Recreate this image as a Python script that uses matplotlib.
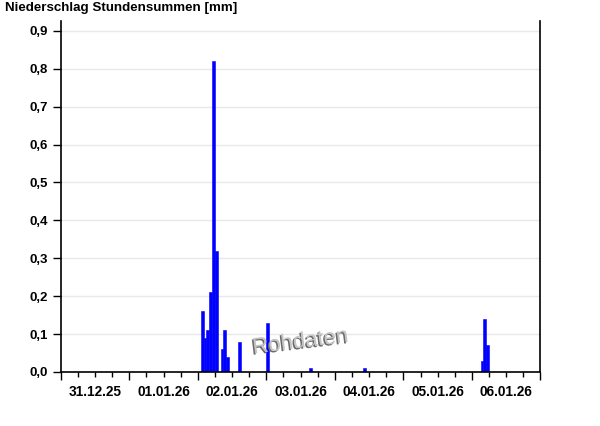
import numpy as np
import pandas as pd
import matplotlib
matplotlib.use("Agg")
import matplotlib.pyplot as plt
import matplotlib.dates as mdates
import matplotlib.patheffects as pe
from matplotlib.ticker import FuncFormatter, MultipleLocator

plt.rcParams['font.family'] = ['Liberation Sans', 'DejaVu Sans']

# hourly precipitation sums (start of hour), zero hours left out
times = ["2026-01-02 01:00", "2026-01-02 02:00", "2026-01-02 03:00", "2026-01-02 04:00",
         "2026-01-02 05:00", "2026-01-02 06:00", "2026-01-02 08:00", "2026-01-02 09:00",
         "2026-01-02 10:00", "2026-01-02 14:00", "2026-01-03 00:00", "2026-01-03 15:00",
         "2026-01-04 10:00", "2026-01-06 03:00", "2026-01-06 04:00", "2026-01-06 05:00"]
precip = [0.16, 0.09, 0.11, 0.21, 0.82, 0.32, 0.06, 0.11,
          0.04, 0.08, 0.13, 0.01, 0.01, 0.03, 0.14, 0.07]

start = pd.Timestamp("2025-12-31 00:00")
end = pd.Timestamp("2026-01-07 00:00")

t = mdates.date2num(pd.to_datetime(times).to_pydatetime())

fig = plt.figure(figsize=(6, 4.26), dpi=100)
ax = fig.add_axes([0.1012, 0.1268, 0.7996, 0.8232])

ax.yaxis.grid(color='#e8e8e8', linewidth=1)
ax.set_axisbelow(True)
ax.bar(t, precip, width=1/24, align='edge', color='#0000ff',
       edgecolor='#0000ff', linewidth=0.4)

ax.set_xlim(mdates.date2num(start), mdates.date2num(end))
ax.set_ylim(0, 0.925)

ax.yaxis.set_major_locator(MultipleLocator(0.1))
ax.yaxis.set_major_formatter(FuncFormatter(lambda v, p: ("%.1f" % v).replace('.', ',')))

ax.xaxis.set_major_locator(mdates.DayLocator())
ax.xaxis.set_major_formatter(FuncFormatter(lambda v, p: ''))
ax.xaxis.set_minor_locator(mdates.HourLocator(byhour=[0, 6, 12, 18]))

def noon_label(v, p):
    d = mdates.num2date(v)
    if d.hour == 12:
        return d.strftime("%d.%m.%y")
    return ''

ax.xaxis.set_minor_formatter(FuncFormatter(noon_label))

ax.tick_params(axis='y', length=6, width=1, labelsize=9.5, pad=3, direction='out')
ax.tick_params(axis='x', which='major', length=6, width=1, direction='out')
ax.tick_params(axis='x', which='minor', length=3.5, width=1, labelsize=9.8, pad=6, direction='out')
for lbl in ax.get_yticklabels() + ax.get_xticklabels(minor=True):
    lbl.set_fontweight('bold')

ax.spines['top'].set_visible(False)
for s in ['left', 'right', 'bottom']:
    ax.spines[s].set_linewidth(1.2)
    ax.spines[s].set_color('black')

fig.text(0.008, 0.981, "Niederschlag Stundensummen [mm]", fontsize=9.6,
         fontweight='bold', ha='left', va='center')

# watermark with a dark shadow, light face
ax.text(0.5, 0.085, "Rohdaten", transform=ax.transAxes, fontsize=16,
        color='#c4c4c4', rotation=7, ha='center', va='center', zorder=5,
        path_effects=[pe.withSimplePatchShadow(offset=(-1, -1), shadow_rgbFace='#6a6a6a', alpha=1)])

fig.savefig("out.png", dpi=100)
